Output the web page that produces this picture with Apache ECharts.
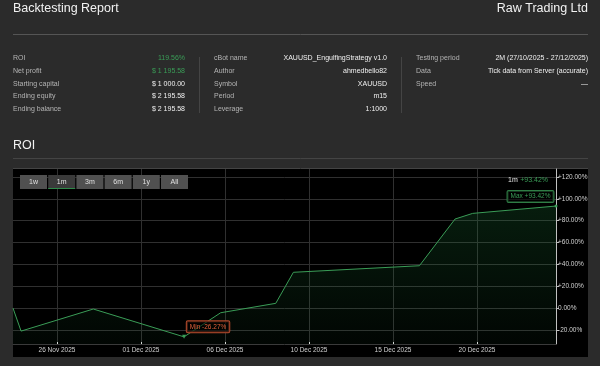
<!DOCTYPE html>
<html><head><meta charset="utf-8">
<script src="https://cdn.jsdelivr.net/npm/echarts@6/dist/echarts.min.js"></script>
<style>html,body{margin:0;padding:0;background:#2b2b2b;}#c{width:600px;height:366px;}</style>
</head><body><div id="c"></div>
<script>
// ---- data ----
const barPos = [-2.62, -2.14, 2.16, 7.56, 9.74, 13.02, 14.07, 21.57, 23.69, 24.74, 29.70];
const roi    = [0, -21.0, -0.8, -26.27, -4.2, 4.4, 32.8, 38.8, 81.5, 86.7, 93.42];
const dateTickPos = [0, 5, 10, 15, 20, 25];
const dateTickLabels = ['26 Nov 2025', '01 Dec 2025', '06 Dec 2025', '10 Dec 2025', '15 Dec 2025', '20 Dec 2025'];
const roiTicks = [-20, 0, 20, 40, 60, 80, 100, 120];
const rangeButtons = ['1w', '1m', '3m', '6m', '1y', 'All'];
const activeRange = '1m';
const summaryLabels = ['ROI', 'Net profit', 'Starting capital', 'Ending equity', 'Ending balance'];
const summaryValues = ['119.56%', '$ 1 195.58', '$ 1 000.00', '$ 2 195.58', '$ 2 195.58'];
const botLabels = ['cBot name', 'Author', 'Symbol', 'Period', 'Leverage'];
const botValues = ['XAUUSD_EngulfingStrategy v1.0', 'ahmedbello82', 'XAUUSD', 'm15', '1:1000'];
const testLabels = ['Testing period', 'Data', 'Speed'];
const testValues = ['2M (27/10/2025 - 27/12/2025)', 'Tick data from Server (accurate)', '\u2014'];

// ---- styles ----
const FONT = '"Liberation Sans", Arial, sans-serif';
const GREEN = '#3a9d57';
const fmtPct = v => (v > 0 ? '+' : '') + v.toFixed(2) + '%';

function txt(x, y, text, size, fill, align, extra) {
  return Object.assign({
    type: 'text', x: x, y: y, silent: true, z: 20,
    style: {
      text: text, fill: fill, font: size + 'px ' + FONT,
      align: align || 'left', verticalAlign: 'middle',
      textAlign: align || 'left', textVerticalAlign: 'middle'
    }
  }, extra || {});
}

const g = [];
// panel background
g.push({ type: 'rect', silent: true, z: -10, shape: { x: 13, y: 168, width: 575, height: 189 }, style: { fill: '#000' } });
g.push({ type: 'line', silent: true, z: -9, shape: { x1: 13, y1: 168.5, x2: 588, y2: 168.5 }, style: { stroke: '#444', lineWidth: 1 } });
// header
g.push(txt(13, 9, 'Backtesting Report', 12.5, '#f2f2f2', 'left'));
g.push(txt(588, 9, 'Raw Trading Ltd', 12.5, '#f2f2f2', 'right'));
g.push({ type: 'line', silent: true, shape: { x1: 13, y1: 34.5, x2: 588, y2: 34.5 }, style: { stroke: '#555', lineWidth: 1 } });
// summary table
const rowY = i => 58 + i * 12.8;
summaryLabels.forEach((l, i) => {
  g.push(txt(13, rowY(i), l, 7, '#b4b4b4', 'left'));
  g.push(txt(185, rowY(i), summaryValues[i], 7, i < 2 ? GREEN : '#f0f0f0', 'right'));
});
botLabels.forEach((l, i) => {
  g.push(txt(214, rowY(i), l, 7, '#b4b4b4', 'left'));
  g.push(txt(387, rowY(i), botValues[i], 7, '#f0f0f0', 'right'));
});
testLabels.forEach((l, i) => {
  g.push(txt(416, rowY(i), l, 7, '#b4b4b4', 'left'));
  g.push(txt(588, rowY(i), testValues[i], 7, '#f0f0f0', 'right'));
});
g.push({ type: 'line', silent: true, shape: { x1: 199.5, y1: 57, x2: 199.5, y2: 113 }, style: { stroke: '#444', lineWidth: 1 } });
g.push({ type: 'line', silent: true, shape: { x1: 401.5, y1: 57, x2: 401.5, y2: 113 }, style: { stroke: '#444', lineWidth: 1 } });
// ROI section title
g.push(txt(13, 146, 'ROI', 12.5, '#f2f2f2', 'left'));
g.push({ type: 'line', silent: true, shape: { x1: 13, y1: 158.5, x2: 588, y2: 158.5 }, style: { stroke: '#444', lineWidth: 1 } });
// range buttons
rangeButtons.forEach((b, i) => {
  const x = 20 + i * 28.2, active = b === activeRange;
  g.push({ type: 'rect', silent: true, z: 15, shape: { x: x, y: 175, width: 27, height: 14 }, style: { fill: active ? '#3a3a3a' : '#505050' } });
  if (active) g.push({ type: 'line', silent: true, z: 16, shape: { x1: x, y1: 188.5, x2: x + 27, y2: 188.5 }, style: { stroke: '#2f8a4a', lineWidth: 1 } });
  g.push(txt(x + 13.5, 182, b, 7, '#e0e0e0', 'center'));
});
// legend: current range value
g.push(txt(508, 180, activeRange, 7, '#e6e6e6', 'left'));
g.push(txt(548, 180, fmtPct(roi[roi.length - 1]), 7, GREEN, 'right'));

const chart = echarts.init(document.getElementById('c'), null, { renderer: 'canvas' });
chart.setOption({
  backgroundColor: '#2b2b2b',
  animation: false,
  textStyle: { fontFamily: FONT },
  grid: { left: 13, right: 44, top: 169, bottom: 22, containLabel: false },
  xAxis: {
    type: 'value', min: -2.62, max: 29.70,
    axisLine: { show: true, onZero: false, lineStyle: { color: '#3a3a3a' } },
    axisTick: { show: true, inside: true, length: 2, customValues: dateTickPos, lineStyle: { color: '#dddddd' } },
    axisLabel: { customValues: dateTickPos, formatter: v => dateTickLabels[dateTickPos.indexOf(v)] || '', fontSize: 6.5, color: '#d0d0d0', margin: 3 },
    splitLine: { show: true, lineStyle: { color: '#303030', width: 1 } }
  },
  yAxis: {
    type: 'value', position: 'right', min: -32.8, max: 127.3,
    axisLine: { show: true, onZero: false, lineStyle: { color: '#c0c0c0' } },
    axisTick: { show: true, length: 3, customValues: roiTicks, lineStyle: { color: '#c0c0c0' } },
    axisLabel: { customValues: roiTicks, formatter: fmtPct, fontSize: 6.5, color: '#d0d0d0', margin: 2 },
    splitLine: { show: true, lineStyle: { color: '#303030', width: 1 } }
  },
  series: [{
    type: 'line',
    data: barPos.map((p, i) => [p, roi[i]]),
    showSymbol: false,
    lineStyle: { color: GREEN, width: 1 },
    areaStyle: {
      origin: 'start',
      color: new echarts.graphic.LinearGradient(0, 0, 0, 1, [
        { offset: 0, color: 'rgba(28,120,58,0.34)' },
        { offset: 1, color: 'rgba(28,120,58,0.07)' }
      ])
    },
    markPoint: {
      symbol: 'triangle', symbolSize: 4,
      data: [
        { type: 'min', symbolRotate: 180, itemStyle: { color: GREEN },
          label: { show: true, position: 'inside', offset: [24, -10], formatter: p => 'Min ' + fmtPct(p.value),
            fontSize: 6.5, color: '#e0603a', backgroundColor: 'rgba(0,0,0,0.55)', borderColor: '#b0492c', borderWidth: 1, borderRadius: 1, padding: [2, 3] } },
        { type: 'max', symbol: 'circle', symbolSize: 3, itemStyle: { color: GREEN },
          label: { show: true, position: 'inside', offset: [-25.5, -9.5], formatter: p => 'Max ' + fmtPct(p.value),
            fontSize: 6.5, color: GREEN, backgroundColor: 'rgba(0,0,0,0.55)', borderColor: '#2f7d45', borderWidth: 1, borderRadius: 1, padding: [2, 3] } }
      ]
    }
  }],
  graphic: { elements: g }
});
</script></body></html>
